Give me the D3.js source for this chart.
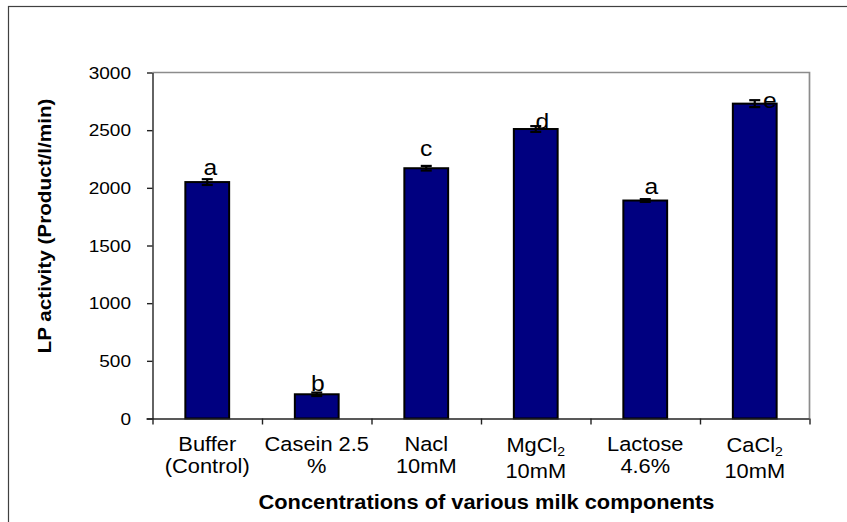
<!DOCTYPE html>
<html><head><meta charset="utf-8">
<script src="https://cdn.jsdelivr.net/npm/d3@7"></script>
<style>
body{margin:0;background:#fff}
svg{display:block}
text{font-family:Arial,"Liberation Sans",sans-serif;fill:#000}
</style>
</head><body><svg id="c" width="847" height="522"></svg>
<script>
// ---- data ----
const categories = ["Buffer (Control)", "Casein 2.5 %", "Nacl 10mM", "MgCl2 10mM", "Lactose 4.6%", "CaCl2 10mM"];
const labelLines = [["Buffer", "(Control)"], ["Casein 2.5", "%"], ["Nacl", "10mM"], ["MgCl_2", "10mM"], ["Lactose", "4.6%"], ["CaCl_2", "10mM"]];
const values = [2050, 210, 2170, 2510, 1890, 2730];
const errors = [25, 15, 20, 25, 12, 30];
const letters = ["a", "b", "c", "d", "a", "e"];
const yTicks = [0, 500, 1000, 1500, 2000, 2500, 3000];
const yTitle = "LP activity (Product/l/min)";
const xTitle = "Concentrations of various milk components";

// ---- annotation placement (style, px) ----
const letterDx = [3, 1, 0, 6.5, 6, 15];
const letterDy = [-6.7, -3, -12.3, 0, -6.3, 4];

const SX = 1.12; // horizontal glyph stretch seen in reference
const svg = d3.select("#c");
const L = 152.5, R = 809.5, T = 72.5, B = 418.5;

// outer frame
svg.append("rect").attr("x", 8.5).attr("y", 6.5).attr("width", 900).attr("height", 600)
  .attr("fill", "none").attr("stroke", "#404040").attr("stroke-width", 1.2);

const x = d3.scaleBand().domain(categories).range([L, R]).paddingInner(0.6).paddingOuter(0.3);
const y = d3.scaleLinear().domain([0, 3000]).range([B, T]);
const xb = d3.scaleLinear().domain([0, categories.length]).range([L, R]);

// plot frame top/right (gray)
svg.append("path").attr("d", `M${L},${T}H${R}V${B}`).attr("fill", "none")
  .attr("stroke", "#8c8c8c").attr("stroke-width", 1.7);

// bars
const data = categories.map((c, i) => ({c, v: values[i], e: errors[i], l: letters[i], i}));
svg.append("g").selectAll("rect").data(data).join("rect")
  .attr("x", d => x(d.c)).attr("y", d => y(d.v))
  .attr("width", x.bandwidth()).attr("height", d => y(0) - y(d.v))
  .attr("fill", "#000080").attr("stroke", "#000").attr("stroke-width", 2);

// error bars
const eg = svg.append("g").attr("stroke", "#000").attr("stroke-width", 2.2);
data.forEach(d => {
  const cx = x(d.c) + x.bandwidth() / 2;
  eg.append("line").attr("x1", cx).attr("x2", cx).attr("y1", y(d.v + d.e)).attr("y2", y(d.v - d.e));
  eg.append("line").attr("x1", cx - 5.5).attr("x2", cx + 5.5).attr("y1", y(d.v + d.e)).attr("y2", y(d.v + d.e));
  eg.append("line").attr("x1", cx - 5.5).attr("x2", cx + 5.5).attr("y1", y(d.v - d.e)).attr("y2", y(d.v - d.e));
});

// axes
const yAxis = svg.append("g").attr("transform", `translate(${L},0)`)
  .call(d3.axisLeft(y).tickValues(yTicks).tickSize(5.5).tickSizeOuter(0).tickFormat(""));
const xAxis = svg.append("g").attr("transform", `translate(0,${B})`)
  .call(d3.axisBottom(xb).tickValues(d3.range(categories.length + 1)).tickSize(6).tickSizeOuter(0).tickFormat(""));
[yAxis, xAxis].forEach(a => {
  a.selectAll("path,line").attr("stroke", "#222").attr("stroke-width", 1.4);
});
xAxis.select(".domain").attr("d", `M${L - 6},0.5H${R}`);

function stretched(parent, tx, ty, rot) {
  return parent.append("g").attr("transform", `translate(${tx},${ty})${rot ? ` rotate(${rot})` : ""} scale(${SX},1)`);
}

// y tick labels
yTicks.forEach(v => {
  stretched(svg, 131, y(v), 0).append("text").attr("text-anchor", "end").attr("dy", "0.36em")
    .attr("font-size", 17).text(v);
});

// category labels
labelLines.forEach((lines, i) => {
  const cx = x(categories[i]) + x.bandwidth() / 2;
  const hasSub = lines.some(s => s.includes("_"));
  lines.forEach((s, j) => {
    const shift = hasSub ? (j === 0 ? 1 : 4.5) : 0;
    const t = stretched(svg, cx, 451 + j * 22 + shift, 0).append("text")
      .attr("text-anchor", "middle").attr("font-size", 19.5);
    if (s.includes("_")) {
      const [a, b] = s.split("_");
      t.append("tspan").text(a);
      t.append("tspan").attr("font-size", 12.5).attr("dy", 3.5).text(b);
    } else t.text(s);
  });
});

// significance letters
data.forEach(d => {
  const cx = x(d.c) + x.bandwidth() / 2 + letterDx[d.i];
  stretched(svg, cx, y(d.v) + letterDy[d.i], 0).append("text").attr("text-anchor", "middle")
    .attr("font-size", 22).text(d.l);
});

// axis titles
stretched(svg, 486.5, 509, 0).append("text").attr("text-anchor", "middle")
  .attr("font-size", 19.5).attr("font-weight", "bold").text(xTitle);
stretched(svg, 51, 226, -90).append("text").attr("text-anchor", "middle")
  .attr("font-size", 18.5).attr("font-weight", "bold").text(yTitle);
</script>
</body></html>
